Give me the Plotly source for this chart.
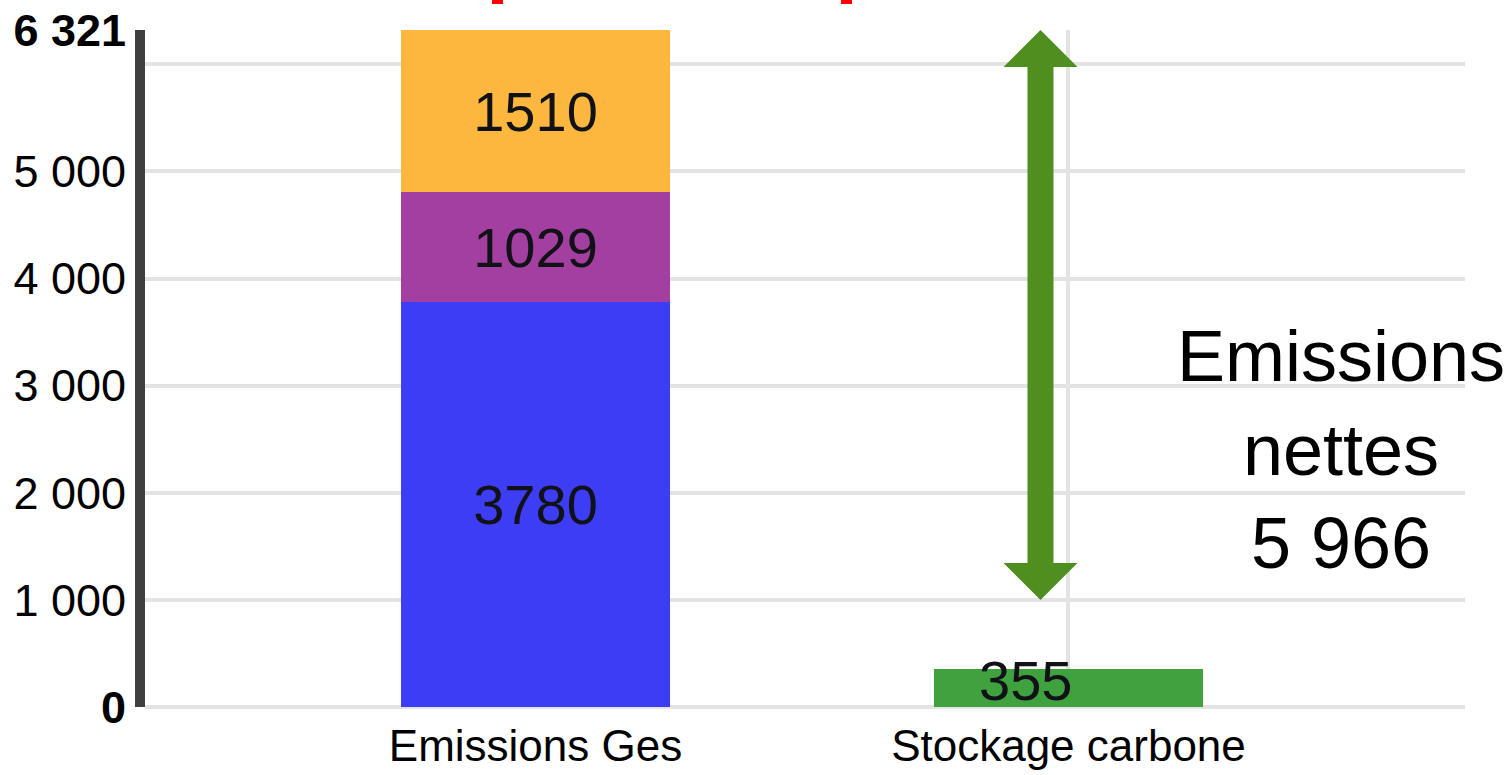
import plotly.graph_objects as go

# ---- data ----
categories = ["Emissions Ges", "Stockage carbone"]
seg_blue = [3780, 0]
seg_purple = [1029, 0]
seg_orange = [1510, 0]
storage = [0, 355]
total_label = 6321
net_label = "5 966"
y_tickvals = [0, 1000, 2000, 3000, 4000, 5000, 6000, 6321]
y_ticktext = ["<b>0</b>", "1 000", "2 000", "3 000", "4 000", "5 000", "", "<b>6 321</b>"]
arrow_top = 6321
arrow_bottom = 1000

x = [0, 1]
BW = 0.505
FONT = "Liberation Sans, Arial, sans-serif"
LBL = dict(family=FONT, size=56, color="#111118")

fig = go.Figure()
def seg(vals, color):
    fig.add_trace(go.Bar(
        x=x, y=vals, width=BW, marker=dict(color=color, line=dict(width=0)),
        text=[str(v) if v else "" for v in vals], textposition="inside",
        insidetextanchor="middle", textfont=LBL, textangle=0, showlegend=False,
        hoverinfo="skip"))
seg(seg_blue, "#3d3df5")
seg(seg_purple, "#a23fa0")
seg(seg_orange, "#fdb73f")
fig.add_trace(go.Bar(x=x, y=storage, width=BW, marker=dict(color="#3fa23f", line=dict(width=0)),
                     showlegend=False, hoverinfo="skip"))

# label of storage bar (offset left)
fig.add_annotation(x=0.919, y=243, xref="x", yref="y", text=str(storage[1]), showarrow=False,
                   font=LBL)

# double-headed arrow as path
xc = 0.9475
sw = 0.0244
hw = 0.0694
hh = 345
path = (f"M {xc},{arrow_top} L {xc+hw},{arrow_top-hh} L {xc+sw},{arrow_top-hh} "
        f"L {xc+sw},{arrow_bottom+hh} L {xc+hw},{arrow_bottom+hh} L {xc},{arrow_bottom} "
        f"L {xc-hw},{arrow_bottom+hh} L {xc-sw},{arrow_bottom+hh} L {xc-sw},{arrow_top-hh} "
        f"L {xc-hw},{arrow_top-hh} Z")
fig.add_shape(type="path", path=path, xref="x", yref="y", fillcolor="#4e8f20",
              line=dict(width=0), layer="above")

fig.add_annotation(x=1.512, y=2400, xref="x", yref="y",
                   text="Emissions<br>nettes<br>" + net_label, showarrow=False,
                   font=dict(family=FONT, size=72, color="#000"), align="center")

# small red marks at top edge (cut-off elements)
for x0, x1 in [(492, 503), (841, 852)]:
    fig.add_shape(type="rect", xref="paper", yref="paper",
                  x0=(x0 - 145) / 1320, x1=(x1 - 145) / 1320,
                  y0=(707 - 4) / 677, y1=707 / 677, fillcolor="#ff0000", line=dict(width=0))

fig.update_layout(
    barmode="stack",
    width=1511, height=775,
    margin=dict(l=145, r=46, t=30, b=68),
    paper_bgcolor="white", plot_bgcolor="white",
    bargap=0,
    showlegend=False,
)
fig.update_xaxes(range=[-0.7327, 1.744], tickvals=x, ticktext=categories,
                 showgrid=True, gridcolor="#e3e3e3", gridwidth=4,
                 showline=False, zeroline=False, ticks="", automargin=False,
                 ticklabelstandoff=9,
                 tickfont=dict(family=FONT, size=44, color="#000"))
fig.update_yaxes(range=[0, total_label], tickvals=y_tickvals, ticktext=y_ticktext,
                 showgrid=True, gridcolor="#e3e3e3", gridwidth=4,
                 zeroline=True, zerolinecolor="#e3e3e3", zerolinewidth=4,
                 showline=True, linecolor="#3f3f3f", linewidth=10, ticks="",
                 ticklabelstandoff=0, automargin=False,
                 tickfont=dict(family=FONT, size=45, color="#000"))

fig.write_html("out.html")
